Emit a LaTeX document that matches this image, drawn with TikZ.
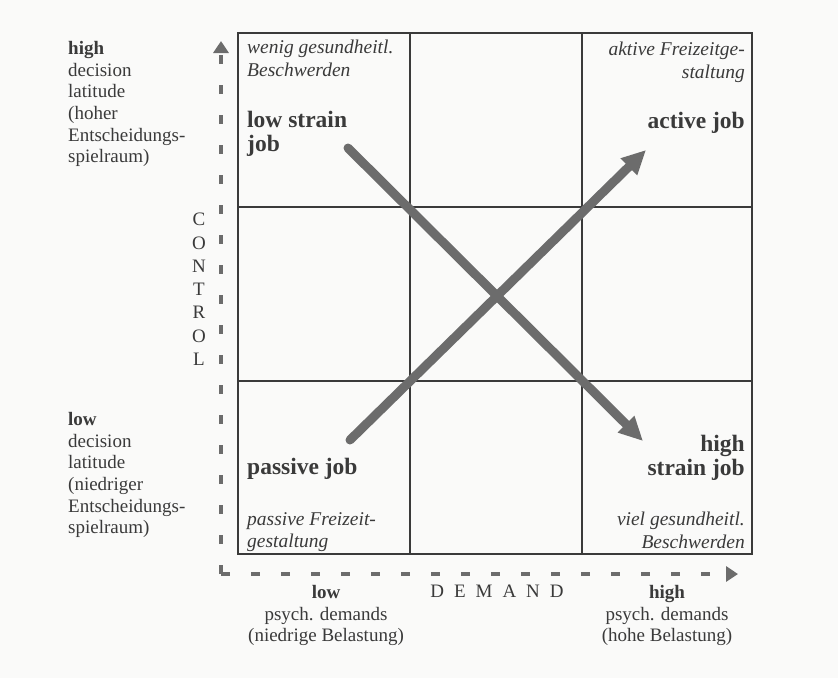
\documentclass[tikz,border=0pt]{standalone}
\usepackage{fontspec}
\setmainfont{Liberation Serif}
\usetikzlibrary{arrows.meta}
\definecolor{inkgray}{RGB}{58,58,58}
\definecolor{arrowgray}{RGB}{108,108,108}
\definecolor{paper}{RGB}{250,250,249}
\tikzset{
    side label/.style={font=\fontsize{19}{21.7}\selectfont, align=left, inner sep=0pt, text=inkgray},
    cell note/.style={font=\fontsize{19.5}{22.5}\selectfont\itshape, inner sep=0pt, text=inkgray},
    job label/.style={font=\fontsize{23.5}{23.5}\selectfont\bfseries, inner sep=0pt, text=inkgray},
    trend arrow/.style={line width=9pt, arrowgray, line cap=round, -{Triangle[length=24pt,width=22pt]}},
    axis arrow/.style={line width=4pt, arrowgray, dash pattern=on 9pt off 21pt, -{Triangle[length=12pt,width=15pt]}},
    grid line/.style={line width=1.4pt, inkgray},
}

\begin{document}
\begin{tikzpicture}[x=1pt, y=-1pt]
    \fill[paper] (0,0) rectangle (838,678);
    \draw[grid line] (238,33) rectangle (752,554);
    \draw[grid line] (410,33) -- (410,554);
    \draw[grid line] (582,33) -- (582,554);
    \draw[grid line] (238,207) -- (752,207);
    \draw[grid line] (238,381) -- (752,381);

    \coordinate (origin) at (221,574);
    \coordinate (controltip) at (221,41);
    \coordinate (demandtip) at (738,574);
    \draw[axis arrow] (origin) -- (controltip);
    \draw[axis arrow] (origin) -- (demandtip);

    \node[side label, anchor=north west] (highdl) at (68,41) {\textbf{high}\\decision\\latitude\\(hoher\\Entscheidungs-\\spielraum)};
    \node[side label, anchor=north west] (lowdl) at (68,412) {\textbf{low}\\decision\\latitude\\(niedriger\\Entscheidungs-\\spielraum)};
    \node[side label, align=center, anchor=north, font=\fontsize{19}{23.3}\selectfont] (control) at (199,213) {C\\O\\N\\T\\R\\O\\L};
    \node[side label, anchor=base] (demand) at (497,597) {D\hspace{10pt}E\hspace{10pt}M\hspace{10pt}A\hspace{10pt}N\hspace{10pt}D};
    \node[side label, align=center, anchor=north] (lowpd) at (326,585) {\textbf{low}\\psych. demands\\(niedrige Belastung)};
    \node[side label, align=center, anchor=north] (highpd) at (667,585) {\textbf{high}\\psych. demands\\(hohe Belastung)};

    \node[cell note, align=left, anchor=north west] (wenig) at (247,40) {wenig gesundheitl.\\Beschwerden};
    \node[cell note, align=right, anchor=north east] (aktiv) at (745,42) {aktive Freizeitge-\\staltung};
    \node[cell note, align=left, anchor=north west] (passivf) at (247,512) {passive Freizeit-\\gestaltung};
    \node[cell note, align=right, anchor=north east] (viel) at (745,512) {viel gesundheitl.\\Beschwerden};

    \node[job label, align=left, anchor=north west] (lowstrain) at (247,111) {low strain\\job};
    \node[job label, anchor=north east] (active) at (745,112) {active job};
    \node[job label, anchor=north west] (passive) at (247,458) {passive job};
    \node[job label, align=right, anchor=north east] (highstrain) at (745,435) {high\\strain job};

    \coordinate (lsstart) at (348,148);
    \coordinate (hsend) at (643,441);
    \coordinate (pjstart) at (350,440);
    \coordinate (ajend) at (646,150);
    \draw[trend arrow] (lsstart) -- (hsend);
    \draw[trend arrow] (pjstart) -- (ajend);
\end{tikzpicture}
\end{document}
